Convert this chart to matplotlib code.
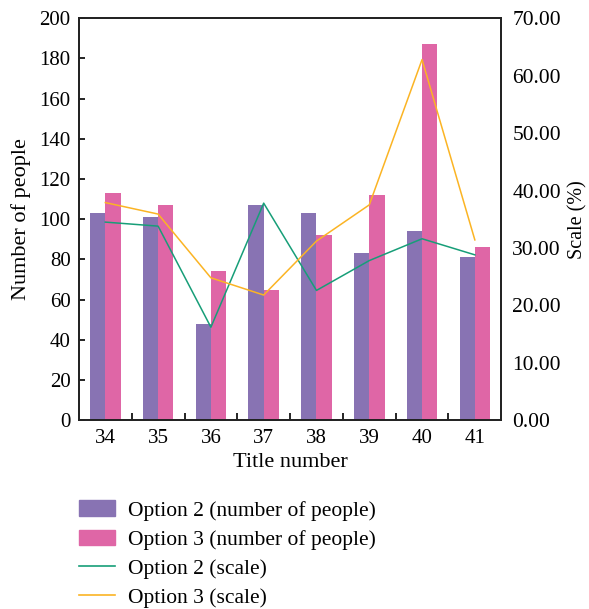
import numpy as np
import matplotlib
matplotlib.use('Agg')
from matplotlib import pyplot as plt
from matplotlib.patches import Patch
from matplotlib.lines import Line2D

plt.rcParams['font.family'] = ['Liberation Serif', 'DejaVu Serif']

# data
titles = ['34', '35', '36', '37', '38', '39', '40', '41']
opt2_people = [103, 101, 48, 107, 103, 83, 94, 81]
opt3_people = [113, 107, 74, 65, 92, 112, 187, 86]
opt2_scale = [34.5, 33.8, 16.2, 37.8, 22.6, 27.8, 31.6, 28.8]
opt3_scale = [37.9, 35.9, 24.8, 21.8, 31.2, 37.5, 62.8, 31.4]

PURPLE = '#8873b3'
PINK = '#df66a6'
GREEN = '#179e78'
ORANGE = '#fbb424'

fig = plt.figure(figsize=(5.89, 6.09), dpi=100)
ax = fig.add_axes([0.134, 0.310, 0.717, 0.660])
x = np.arange(len(titles))
w = 0.29
ax.bar(x - w / 2, opt2_people, w, color=PURPLE)
ax.bar(x + w / 2, opt3_people, w, color=PINK)
ax.set_xlim(-0.5, len(titles) - 0.5)
ax.set_ylim(0, 200)
ax.set_yticks(np.arange(0, 201, 20))
ax.set_xticks(x)
ax.set_xticklabels(titles)
ax.set_xticks(x[:-1] + 0.5, minor=True)
ax.tick_params(axis='x', which='major', length=0, labelsize=15, pad=6)
ax.tick_params(axis='x', which='minor', direction='in', length=5, width=1.2)
ax.tick_params(axis='y', direction='in', length=4, width=1.2, labelsize=15, pad=6)
ax.set_ylabel('Number of people', fontsize=16, labelpad=6)
ax.set_xlabel('Title number', fontsize=16, labelpad=4)

ax2 = ax.twinx()
ax2.plot(x, opt2_scale, color=GREEN, lw=1.1)
ax2.plot(x, opt3_scale, color=ORANGE, lw=1.1)
ax2.set_ylim(0, 70)
ax2.set_yticks(np.arange(0, 71, 10))
ax2.set_yticklabels(['%.2f' % v for v in np.arange(0, 71, 10)])
ax2.tick_params(axis='y', direction='in', length=0, labelsize=15.5, pad=8)
ax2.set_ylabel('Scale (%)', fontsize=14.5, labelpad=5)

for a in (ax, ax2):
    for s in a.spines.values():
        s.set_linewidth(1.3)
        s.set_color('#222222')

handles = [Patch(color=PURPLE), Patch(color=PINK),
           Line2D([], [], color=GREEN, lw=1.2), Line2D([], [], color=ORANGE, lw=1.2)]
labels = ['Option 2 (number of people)', 'Option 3 (number of people)',
          'Option 2 (scale)', 'Option 3 (scale)']
fig.legend(handles, labels, loc='upper left', bbox_to_anchor=(0.102, 0.210),
           frameon=False, fontsize=15.5, handlelength=1.67, handleheight=0.7,
           labelspacing=0.42, handletextpad=0.6)

plt.savefig('out.png', dpi=100)
